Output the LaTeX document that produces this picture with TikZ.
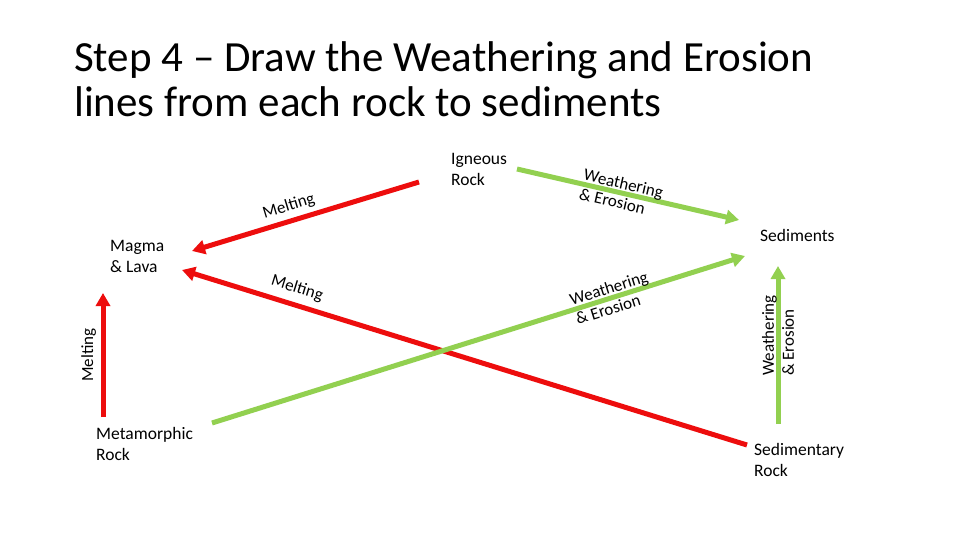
\documentclass[tikz,border=0pt]{standalone}
\usepackage{fontspec}
\setmainfont{Carlito}
\usepackage{xcolor}
\usetikzlibrary{arrows.meta}
\definecolor{meltred}{rgb}{0.93,0.05,0.05}
\definecolor{weathergreen}{HTML}{92D050}

\begin{document}
\begin{tikzpicture}[x=1pt,y=-1pt]
    \tikzstyle{rock}=[inner sep=0pt,align=left,anchor=north west,font=\fontsize{17.5}{21}\selectfont]
    \tikzstyle{lbl}=[inner sep=1.5pt,align=left,font=\fontsize{17}{20}\selectfont]
    \tikzstyle{melt}=[draw=meltred,line width=5pt,-{Triangle[length=13pt,width=14pt]}]
    \tikzstyle{weather}=[draw=weathergreen,line width=5pt,-{Triangle[length=13pt,width=14pt]}]

    \useasboundingbox[fill=white] (0,0) rectangle (960,540);

    \node[inner sep=0pt,anchor=base west,align=left,font=\fontsize{43}{45}\selectfont] (title) at (74,117) {Step 4 -- Draw the Weathering and Erosion\\lines from each rock to sediments};

    \node[rock] (igneous) at (451,153) {Igneous\\Rock};
    \node[rock] (magma) at (110,240) {Magma\\\& Lava};
    \node[rock] (metamorphic) at (96,427) {Metamorphic\\Rock};
    \node[rock] (sediments) at (760,229) {Sediments};
    \node[rock] (sedimentary) at (754,443) {Sedimentary\\Rock};

    % melting lines
    \draw[melt] ([shift={(-32,29)}]igneous.north west) -- ([shift={(82,11)}]magma.north west)
        node[lbl,pos=0.555,sloped,above=3pt] {Melting};
    \draw[melt] ([shift={(-7,2)}]sedimentary.north west) -- ([shift={(72,30)}]magma.north west)
        node[lbl,pos=0.805,sloped,above=5pt] {Melting};
    \draw[melt] ([shift={(7,-10)}]metamorphic.north west) -- ([shift={(-7,53)}]magma.north west)
        node[lbl,pos=0.5,sloped,above=3pt] {Melting};

    % weathering and erosion lines
    \draw[weather] ([shift={(66,16)}]igneous.north west) -- ([shift={(-21,-9)}]sediments.north west)
        node[lbl,pos=0.47,sloped] {Weathering\\\& Erosion};
    \draw[weather] ([shift={(116,-4)}]metamorphic.north west) -- ([shift={(-15,27)}]sediments.north west)
        node[lbl,pos=0.75,sloped] {Weathering\\\& Erosion};
    \draw[weather] ([shift={(24,-19)}]sedimentary.north west) -- ([shift={(18,37)}]sediments.north west)
        node[lbl,pos=0.56,sloped] {Weathering\\\& Erosion};

\end{tikzpicture}
\end{document}
